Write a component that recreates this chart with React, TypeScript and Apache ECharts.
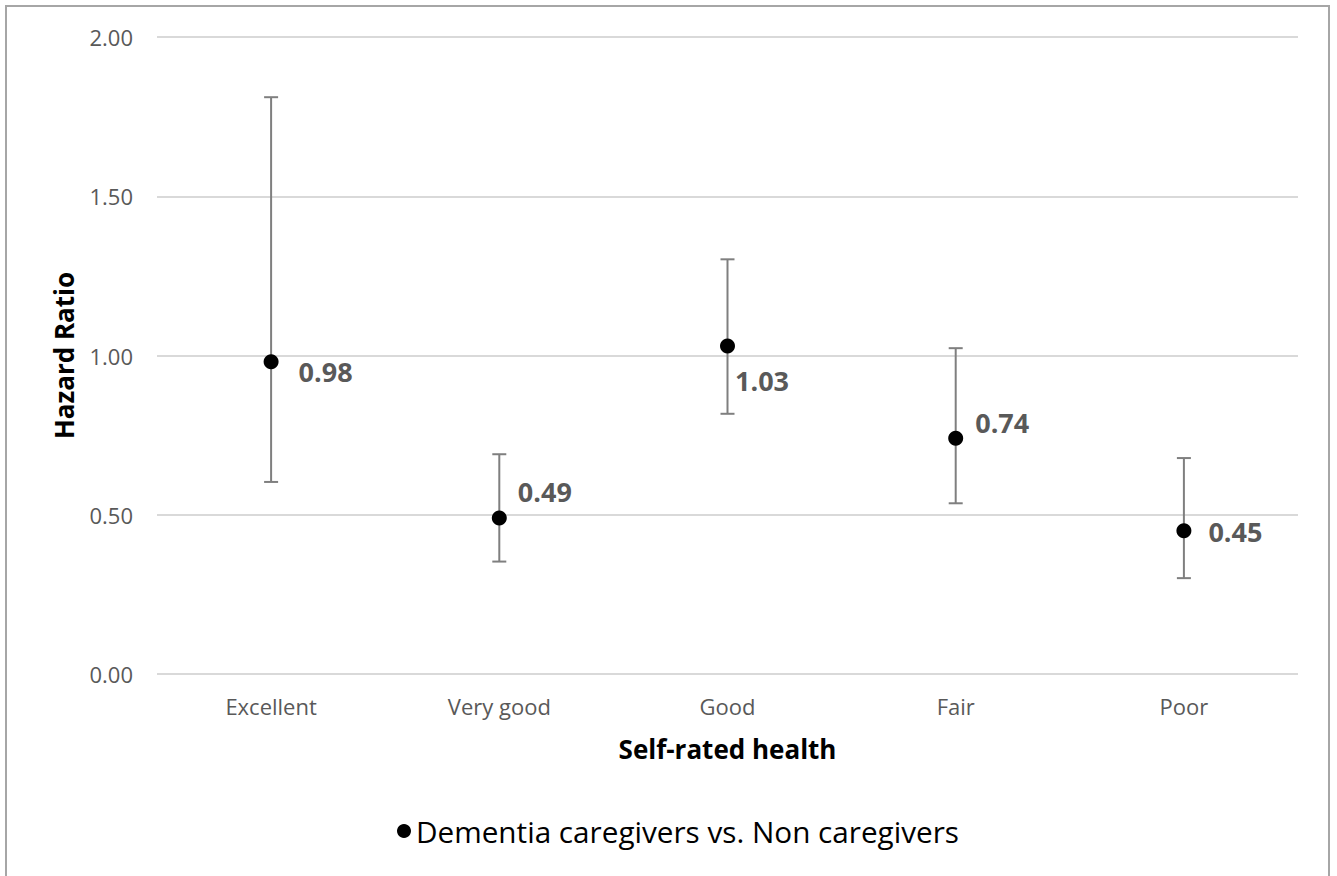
import React, { useEffect, useRef } from "react";
import * as echarts from "echarts";

const categories = ["Excellent", "Very good", "Good", "Fair", "Poor"];
const hazardRatio = [0.98, 0.49, 1.03, 0.74, 0.45];
const ciLow = [0.603, 0.353, 0.817, 0.536, 0.301];
const ciHigh = [1.811, 0.69, 1.302, 1.023, 0.678];
const yTicks = [0, 0.5, 1, 1.5, 2];
const seriesName = "Dementia caregivers vs. Non caregivers";
const labelOffsets = [
  [20, 10],
  [11, -26],
  [0, 35],
  [12, -16],
  [17, 1],
];

const FONT = "'Open Sans', Lato, sans-serif";

export default function App() {
  const ref = useRef<HTMLDivElement>(null);
  useEffect(() => {
    document.body.style.margin = "0";
    const chart = echarts.init(ref.current!, null, { renderer: "svg" });
    const errData = categories.map((_, i) => [i, ciLow[i], ciHigh[i]]);
    chart.setOption({
      animation: false,
      backgroundColor: "#ffffff",
      textStyle: { fontFamily: FONT },
      grid: { left: 157, right: 39, top: 37, bottom: 202 },
      graphic: [
        {
          type: "rect",
          shape: { x: 6, y: 6, width: 1323, height: 900 },
          style: { fill: "none", stroke: "#a6a6a6", lineWidth: 2 },
          silent: true,
        },
      ],
      legend: {
        data: [{ name: seriesName, icon: "circle" }],
        left: 392,
        top: 811,
        itemWidth: 14,
        itemHeight: 14,
        itemGap: 6,
        textStyle: { fontSize: 29.7, color: "#000000", fontFamily: FONT },
      },
      xAxis: {
        type: "category",
        data: categories,
        boundaryGap: true,
        axisLine: { show: false },
        axisTick: { show: false },
        axisLabel: { color: "#595959", fontSize: 22, margin: 21, fontFamily: FONT },
        name: "Self-rated health",
        nameLocation: "middle",
        nameGap: 62,
        nameTextStyle: { fontSize: 26, fontWeight: "bold", color: "#000000", fontFamily: FONT },
      },
      yAxis: {
        type: "value",
        min: yTicks[0],
        max: yTicks[yTicks.length - 1],
        interval: 0.5,
        axisLine: { show: false },
        axisTick: { show: false },
        splitLine: { lineStyle: { color: "#d9d9d9", width: 2 } },
        axisLabel: {
          color: "#595959",
          fontSize: 22,
          margin: 24,
          fontFamily: FONT,
          formatter: (v: number) => v.toFixed(2),
        },
        name: "Hazard Ratio",
        nameLocation: "middle",
        nameGap: 80,
        nameTextStyle: { fontSize: 26, fontWeight: "bold", color: "#000000", fontFamily: FONT },
      },
      series: [
        {
          type: "custom",
          name: "CI",
          data: errData,
          z: 2,
          renderItem: (params: any, api: any) => {
            const x = api.value(0);
            const lo = api.coord([x, api.value(1)]);
            const hi = api.coord([x, api.value(2)]);
            const cap = 7;
            const style = { stroke: "#7f7f7f", lineWidth: 2 };
            return {
              type: "group",
              children: [
                { type: "line", shape: { x1: lo[0], y1: lo[1], x2: hi[0], y2: hi[1] }, style },
                { type: "line", shape: { x1: hi[0] - cap, y1: hi[1], x2: hi[0] + cap, y2: hi[1] }, style },
                { type: "line", shape: { x1: lo[0] - cap, y1: lo[1], x2: lo[0] + cap, y2: lo[1] }, style },
              ],
            };
          },
        },
        {
          type: "scatter",
          name: seriesName,
          z: 3,
          symbol: "circle",
          symbolSize: 15,
          itemStyle: { color: "#000000", opacity: 1 },
          data: hazardRatio.map((v, i) => ({
            value: [i, v],
            label: {
              show: true,
              position: "right",
              distance: 0,
              offset: labelOffsets[i],
              formatter: v.toFixed(2),
              fontSize: 27,
              fontWeight: "bold",
              color: "#595959",
              fontFamily: FONT,
            },
          })),
        },
      ],
    });
    return () => chart.dispose();
  }, []);
  return <div ref={ref} style={{ width: 1337, height: 876 }} />;
}
